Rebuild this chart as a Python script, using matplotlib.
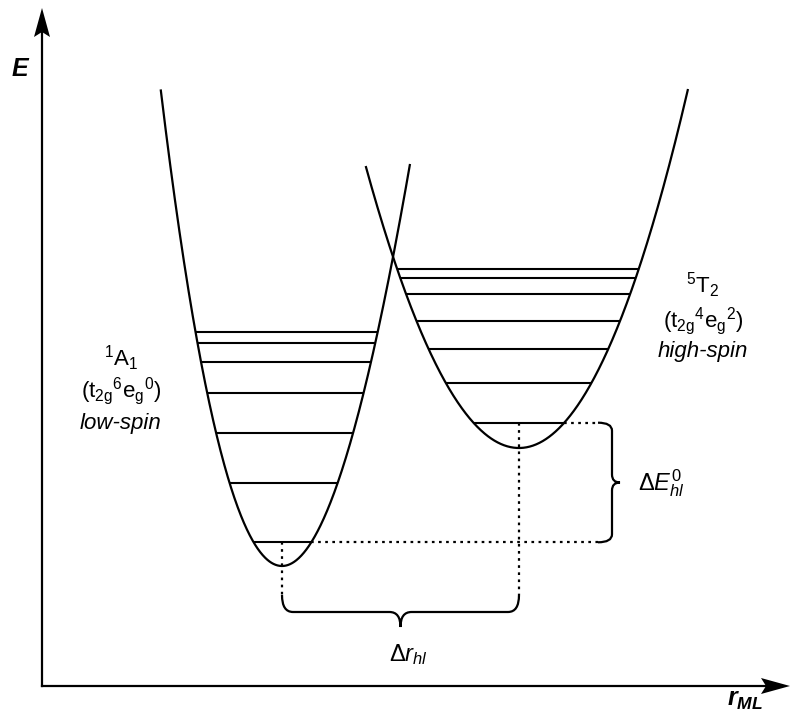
import numpy as np
import matplotlib
matplotlib.use('Agg')
import matplotlib.pyplot as plt
from matplotlib.path import Path
from matplotlib.patches import PathPatch, Polygon

plt.rcParams['font.family'] = ['Liberation Sans', 'DejaVu Sans']
plt.rcParams['mathtext.fontset'] = 'custom'
plt.rcParams['mathtext.rm'] = 'Liberation Sans'
plt.rcParams['mathtext.it'] = 'Liberation Sans:italic'
plt.rcParams['mathtext.bf'] = 'Liberation Sans:bold'
plt.rcParams['mathtext.bfit'] = 'Liberation Sans:bold:italic'

# diagram units: x = r_ML, y = E measured downward (same scale as the picture)
# low-spin well: minimum, quadratic + cubic coefficients, branch extent
ls_min = (282, 566)
ls_coef = (0.02857, -3.15e-5)
ls_span = (-121.3, 128)
ls_levels = [542.3, 483.3, 432.7, 392.7, 362.3, 342.7, 332.3]

# high-spin well
hs_min = (519, 448)
hs_coef = (0.01227, 1.77e-6)
hs_span = (-153.3, 169)
hs_levels = [422.7, 382.7, 349.0, 321.0, 294.3, 278.3, 269.3]

origin = (42, 686)
axis_end = (790, 8)

fig = plt.figure(figsize=(7.93, 7.22), dpi=100)
ax = fig.add_axes([0, 0, 1, 1])
ax.set_xlim(0, 793)
ax.set_ylim(722, 0)
ax.axis('off')


def height(d, coef):
    a, c = coef
    return a * d**2 + c * d**3


def draw_well(vmin, coef, span, levels):
    x0, y0 = vmin
    d = np.linspace(span[0], span[1], 600)
    ax.plot(x0 + d, y0 - height(d, coef), color='black', lw=1.6,
            solid_capstyle='butt')
    dl = np.linspace(span[0], 0, 400)
    dr = np.linspace(0, span[1], 400)
    ends = []
    for lev in levels:
        dy = y0 - lev
        left = np.interp(dy, height(dl, coef)[::-1], dl[::-1])
        right = np.interp(dy, height(dr, coef), dr)
        ax.plot([x0 + left, x0 + right], [lev, lev], color='black', lw=1.5,
                solid_capstyle='butt')
        ends.append(x0 + right)
    return ends


ls_ends = draw_well(ls_min, ls_coef, ls_span, ls_levels)
hs_ends = draw_well(hs_min, hs_coef, hs_span, hs_levels)

# axes with stealth arrow heads
ax.plot([origin[0], origin[0]], [origin[1], axis_end[1] + 20], color='black', lw=1.6)
ax.plot([origin[0], axis_end[0] - 20], [origin[1], origin[1]], color='black', lw=1.6)


def arrowhead(tip, direction, length=29, half=8, notch=5):
    t = np.array(tip, float)
    u = np.array(direction, float)
    n = np.array([-u[1], u[0]])
    back = t - u * length
    pts = [t, back + n * half, t - u * (length - notch), back - n * half]
    ax.add_patch(Polygon(pts, closed=True, color='black', lw=0))


arrowhead((origin[0], axis_end[1]), (0, -1))
arrowhead((axis_end[0], origin[1]), (1, 0))


def brace(p0, p1, depth=17, tip=15, r=11, vertical=False):
    # brace between p0 and p1 (along main direction), bulging by depth then tip
    if not vertical:
        (a0, b), (a1, _) = p0, p1
    else:
        (b, a0), (_, a1) = p0, p1
    am = (a0 + a1) / 2
    bf = b + depth
    pts = [(a0, b), (a0, bf), (a0 + r, bf),
           (am - r, bf), (am, bf), (am, bf + tip),
           (am, bf), (am + r, bf),
           (a1 - r, bf), (a1, bf), (a1, b)]
    codes = [Path.MOVETO, Path.CURVE3, Path.CURVE3,
             Path.LINETO, Path.CURVE3, Path.CURVE3,
             Path.CURVE3, Path.CURVE3,
             Path.LINETO, Path.CURVE3, Path.CURVE3]
    if vertical:
        pts = [(q, p) for p, q in pts]
    ax.add_patch(PathPatch(Path(pts, codes), fill=False, color='black', lw=1.6))


dot = dict(color='black', lw=1.6, linestyle=(0, (1.2, 2.0)))
brace_y = 595
brace_x = 605

# r offset markers
ax.plot([ls_min[0], ls_min[0]], [ls_levels[0], brace_y], **dot)
ax.plot([hs_min[0], hs_min[0]], [hs_levels[0], brace_y], **dot)
brace((ls_min[0], brace_y), (hs_min[0], brace_y), depth=17, tip=15, r=11)

# zero-point energy markers
ax.plot([ls_ends[0], brace_x - 7], [ls_levels[0], ls_levels[0]], **dot)
ax.plot([hs_ends[0], brace_x - 7], [hs_levels[0], hs_levels[0]], **dot)
brace((brace_x - 7, hs_levels[0]), (brace_x - 7, ls_levels[0]),
      depth=14, tip=8, r=8, vertical=True)

fs = 16
ax.text(121, 358, r'$^{\mathrm{1}}\mathrm{A}_{\mathrm{1}}$', fontsize=fs, ha='center', va='center')
ax.text(121, 391, r'(t$_{\mathrm{2g}}{}^{\mathrm{6}}$e$_{\mathrm{g}}{}^{\mathrm{0}}$)',
        fontsize=fs, ha='center', va='center')
ax.text(121, 423, 'low-spin', fontsize=fs, style='italic', ha='center', va='center')

ax.text(703, 285, r'$^{\mathrm{5}}\mathrm{T}_{\mathrm{2}}$', fontsize=fs, ha='center', va='center')
ax.text(703, 321, r'(t$_{\mathrm{2g}}{}^{\mathrm{4}}$e$_{\mathrm{g}}{}^{\mathrm{2}}$)',
        fontsize=fs, ha='center', va='center')
ax.text(703, 352, 'high-spin', fontsize=fs, style='italic', ha='center', va='center')

ax.text(408, 655, r'$\Delta r_{hl}$', fontsize=17, ha='center', va='center')
ax.text(638, 483, r'$\Delta E^{\mathit{0}}_{hl}$', fontsize=17, ha='left', va='center')

ax.text(20, 69, 'E', fontsize=18, fontweight='bold', style='italic', ha='center', va='center')
ax.text(745, 700, r'$\mathbfit{r}_{\mathbfit{ML}}$', fontsize=18, ha='center', va='center')

fig.savefig('out.png', dpi=100)
